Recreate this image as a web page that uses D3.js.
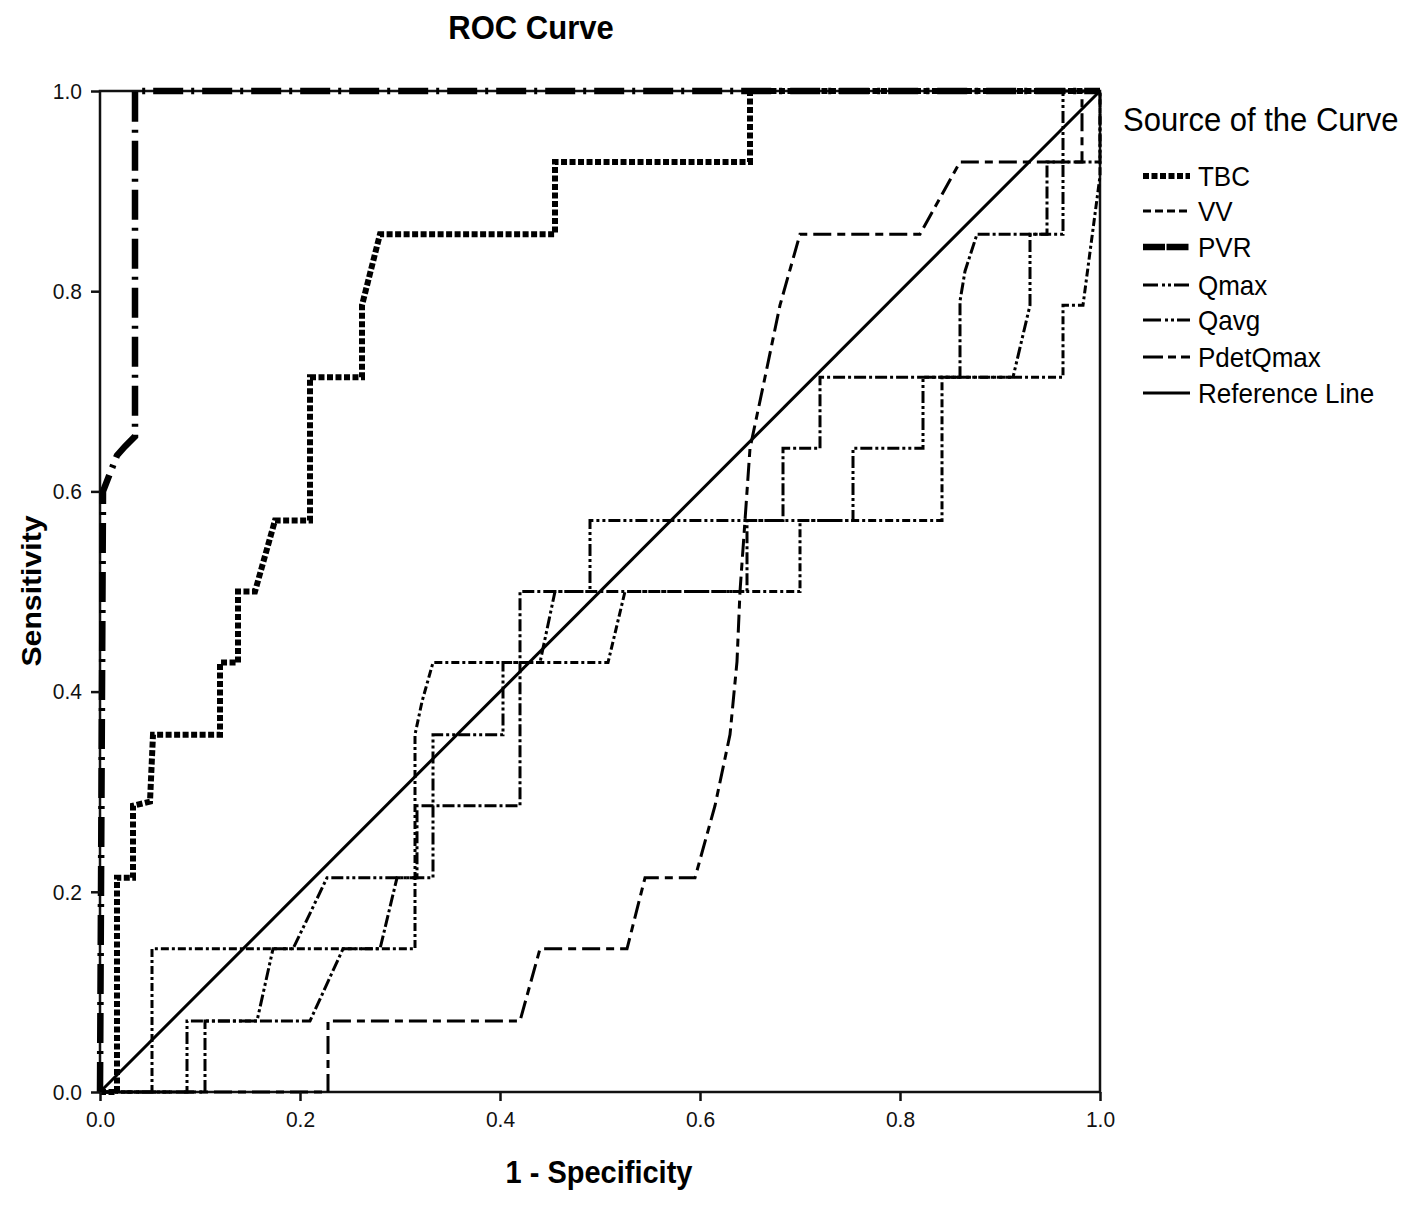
<!DOCTYPE html>
<html>
<head>
<meta charset="utf-8">
<title>ROC Curve</title>
<script src="https://cdn.jsdelivr.net/npm/d3@7"></script>
<style>
  body { margin: 0; background: #fff; }
  svg { display: block; font-family: "Liberation Sans", Arial, sans-serif; }
  .axis path { display: none; }
  .axis line { stroke: #111; stroke-width: 2.5; }
  .axis text { font-size: 21px; fill: #111; }
</style>
</head>
<body>
<script>
// tick labels
const xTicks = [0, 0.2, 0.4, 0.6, 0.8, 1.0];
const yTicks = [0, 0.2, 0.4, 0.6, 0.8, 1.0];

// [1 - specificity, sensitivity]
const tbc = [[0,0],[0.017,0],[0.017,0.214],[0.033,0.214],[0.033,0.286],[0.05,0.29],[0.053,0.357],
  [0.12,0.357],[0.12,0.429],[0.138,0.429],[0.138,0.5],[0.155,0.5],[0.175,0.571],[0.21,0.571],
  [0.21,0.714],[0.262,0.714],[0.262,0.786],[0.28,0.857],[0.455,0.857],[0.455,0.929],
  [0.65,0.929],[0.65,1],[1,1]];
const vv = [[0,0],[0.052,0],[0.052,0.143],[0.315,0.143],[0.315,0.357],[0.322,0.39],[0.333,0.429],
  [0.508,0.429],[0.525,0.5],[0.70,0.5],[0.70,0.571],[0.842,0.571],[0.842,0.714],[0.963,0.714],
  [0.963,0.786],[0.983,0.786],[1,0.915],[1,1]];
const pvr = [[0,0],[0.003,0.6],[0.017,0.636],[0.025,0.645],[0.035,0.655],[0.035,1],[1,1]];
const qmax = [[0,0],[0.105,0],[0.105,0.071],[0.21,0.071],[0.243,0.143],[0.28,0.143],[0.297,0.214],
  [0.317,0.214],[0.317,0.286],[0.42,0.286],[0.42,0.5],[0.647,0.5],[0.647,0.571],[0.683,0.571],
  [0.683,0.643],[0.72,0.643],[0.72,0.714],[0.86,0.714],[0.86,0.79],[0.865,0.82],[0.877,0.857],
  [0.947,0.857],[0.947,0.929],[1,0.929],[1,1]];
const qavg = [[0,0],[0.087,0],[0.087,0.071],[0.157,0.071],[0.173,0.143],[0.193,0.143],[0.227,0.214],
  [0.333,0.214],[0.333,0.357],[0.403,0.357],[0.403,0.429],[0.44,0.429],[0.455,0.5],[0.49,0.5],
  [0.49,0.571],[0.753,0.571],[0.753,0.643],[0.823,0.643],[0.823,0.714],[0.913,0.714],[0.93,0.786],
  [0.93,0.857],[0.963,0.857],[0.963,1],[1,1]];
const pdetQmax = [[0,0],[0.228,0],[0.228,0.071],[0.42,0.071],[0.44,0.143],[0.527,0.143],[0.545,0.214],
  [0.595,0.214],[0.615,0.286],[0.63,0.357],[0.637,0.43],[0.64,0.5],[0.645,0.571],[0.65,0.643],
  [0.665,0.714],[0.68,0.786],[0.70,0.857],[0.82,0.857],[0.86,0.929],[0.982,0.929],[0.982,1],[1,1]];
const refLine = [[0,0],[1,1]];

const names = ["TBC", "VV", "PVR", "Qmax", "Qavg", "PdetQmax", "Reference Line"];
const curves = [tbc, vv, pvr, qmax, qavg, pdetQmax, refLine];

// line styles, same order as names
const styles = [
  { w: 6,   dash: "6,2.5",         legendDash: "6,2.5" },
  { w: 3,   dash: "8,3,3,3",       legendDash: "8,4" },
  { w: 6.5, dash: "30,8,3,8",      legendDash: "22,1.5" },
  { w: 3,   dash: "12,3,3,3",      legendDash: "15,4,3,3,3,3" },
  { w: 3,   dash: "12,3,3,3,3,3",  legendDash: "18,4,3,3,3,3" },
  { w: 3,   dash: "18,6,8,6",      legendDash: "20,5,8,5" },
  { w: 3,   dash: null,            legendDash: null }
];

const W = 1417, H = 1208;
const plot = { left: 100, top: 91, right: 1100, bottom: 1092 };
const stretch = 1.08; // text in the source looks a little taller than wide

const svg = d3.select("body").append("svg")
  .attr("width", W).attr("height", H);

const x = d3.scaleLinear().domain([0, 1]).range([plot.left, plot.right]);
const y = d3.scaleLinear().domain([0, 1]).range([plot.bottom, plot.top]);

// frame
svg.append("rect")
  .attr("x", x(0)).attr("y", y(1))
  .attr("width", x(1) - x(0)).attr("height", y(0) - y(1))
  .attr("fill", "none").attr("stroke", "#111").attr("stroke-width", 2.5);

// curves
const line = d3.line().x(d => x(d[0])).y(d => y(d[1]));
svg.append("g").selectAll("path")
  .data(curves)
  .enter().append("path")
  .attr("d", d => line(d))
  .attr("fill", "none")
  .attr("stroke", "#000")
  .attr("stroke-width", (d, i) => styles[i].w)
  .attr("stroke-dasharray", (d, i) => styles[i].dash)
  .attr("stroke-linejoin", "miter");

// axes
svg.append("g")
  .attr("class", "axis")
  .attr("transform", "translate(" + plot.left + ",0)")
  .call(d3.axisLeft(y).tickValues(yTicks).tickFormat(d3.format(".1f")).tickSize(9).tickPadding(9));

svg.append("g")
  .attr("class", "axis")
  .attr("transform", "translate(0," + plot.bottom + ")")
  .call(d3.axisBottom(x).tickValues(xTicks).tickFormat(d3.format(".1f")).tickSize(9).tickPadding(10));

// stretch tick labels a bit vertically
svg.selectAll(".axis .tick text")
  .attr("transform", "scale(1," + stretch + ")")
  .attr("y", function() { return +d3.select(this).attr("y") / stretch; });

function label(x0, y0, rot) {
  return svg.append("text")
    .attr("transform", "translate(" + x0 + "," + y0 + ")" + (rot ? " rotate(" + rot + ")" : "") + " scale(1," + stretch + ")");
}

// titles
label(531, 39).attr("text-anchor", "middle")
  .attr("font-size", "31px").attr("font-weight", "bold")
  .text("ROC Curve");

label(599, 1183).attr("text-anchor", "middle")
  .attr("font-size", "29px").attr("font-weight", "bold")
  .text("1 - Specificity");

svg.append("text")
  .attr("transform", "translate(41,591) rotate(-90) scale(" + stretch + ",1)")
  .attr("text-anchor", "middle")
  .attr("font-size", "28px").attr("font-weight", "bold")
  .text("Sensitivity");

// legend
label(1123, 131).attr("font-size", "31px").text("Source of the Curve");

const legendY = [176, 211, 247, 285, 320, 357, 393];
const items = svg.append("g").selectAll("g.item")
  .data(names)
  .enter().append("g")
  .attr("class", "item")
  .attr("transform", (d, i) => "translate(0," + legendY[i] + ")");

items.append("line")
  .attr("x1", 1143).attr("x2", 1190)
  .attr("y1", 0).attr("y2", 0)
  .attr("stroke", "#000")
  .attr("stroke-width", (d, i) => styles[i].w)
  .attr("stroke-dasharray", (d, i) => styles[i].legendDash);

items.append("text")
  .attr("transform", "translate(1198,0) scale(1," + stretch + ")")
  .attr("dy", "0.36em")
  .attr("font-size", "26px")
  .text(d => d);
</script>
</body>
</html>
